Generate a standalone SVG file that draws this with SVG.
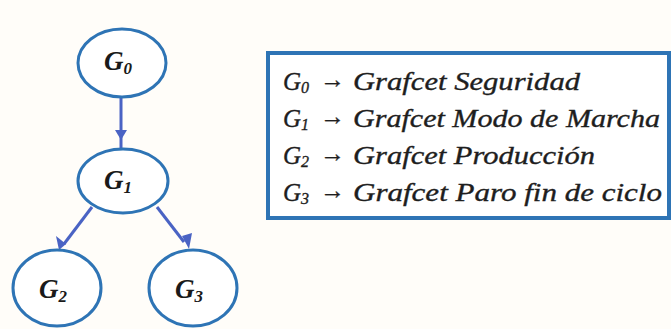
<svg xmlns="http://www.w3.org/2000/svg" width="671" height="329" viewBox="0 0 671 329">
  <defs>
    <style>
      .node { fill: #ffffff; stroke: #2e74b5; stroke-width: 3; }
      .lbl { font-family: "Liberation Serif", "DejaVu Serif", serif; font-style: italic; font-weight: bold; font-size: 27px; fill: #1a1a1a; }
      .sub { font-size: 17px; }
      .edge { stroke: #4a63c4; stroke-width: 3; fill: none; }
      .head { fill: #4a63c4; }
      .legend { font-family: "Liberation Serif", "DejaVu Serif", serif; font-style: italic; font-size: 25px; fill: #1e1e1e; stroke: #1e1e1e; stroke-width: 0.35; }
      .lsub { font-size: 16px; }
      .box { fill: #ffffff; stroke: #2e74b5; stroke-width: 4; }
    </style>
  </defs>

  <rect width="671" height="329" fill="#fffdf9"/>

  <!-- connectors -->
  <g id="connectors">
    <line class="edge" x1="121" y1="97" x2="121" y2="150"/>
    <polygon class="head" points="115,130 127,130 121,140"/>
    <line class="edge" x1="92" y1="207" x2="64" y2="244"/>
    <polygon class="head" points="56,236 66,244 59,250"/>
    <line class="edge" x1="157" y1="207" x2="184" y2="242"/>
    <polygon class="head" points="182,236 192,233 189,249"/>
  </g>

  <!-- nodes -->
  <g id="G0">
    <ellipse class="node" cx="122" cy="63" rx="44" ry="34"/>
    <text class="lbl" x="104" y="70">G<tspan class="sub" dy="4">0</tspan></text>
  </g>
  <g id="G1">
    <ellipse class="node" cx="123" cy="181" rx="45" ry="32"/>
    <text class="lbl" x="104" y="189">G<tspan class="sub" dy="4">1</tspan></text>
  </g>
  <g id="G2">
    <ellipse class="node" cx="57" cy="288" rx="44" ry="38"/>
    <text class="lbl" x="39" y="298">G<tspan class="sub" dy="4">2</tspan></text>
  </g>
  <g id="G3">
    <ellipse class="node" cx="193" cy="288" rx="44" ry="38"/>
    <text class="lbl" x="175" y="298">G<tspan class="sub" dy="4">3</tspan></text>
  </g>

  <!-- legend -->
  <g id="legend">
    <rect class="box" x="268" y="53" width="401" height="165"/>
    <text class="legend" x="283" y="90">G<tspan class="lsub" dy="3">0</tspan></text>
    <text class="legend" x="320" y="88">→</text>
    <text class="legend" x="353" y="90" textLength="227" lengthAdjust="spacingAndGlyphs">Grafcet Seguridad</text>

    <text class="legend" x="283" y="127">G<tspan class="lsub" dy="3">1</tspan></text>
    <text class="legend" x="320" y="125">→</text>
    <text class="legend" x="353" y="127" textLength="307" lengthAdjust="spacingAndGlyphs">Grafcet Modo de Marcha</text>

    <text class="legend" x="283" y="164">G<tspan class="lsub" dy="3">2</tspan></text>
    <text class="legend" x="320" y="162">→</text>
    <text class="legend" x="353" y="164" textLength="242" lengthAdjust="spacingAndGlyphs">Grafcet Producción</text>

    <text class="legend" x="283" y="201">G<tspan class="lsub" dy="3">3</tspan></text>
    <text class="legend" x="320" y="199">→</text>
    <text class="legend" x="353" y="201" textLength="309" lengthAdjust="spacingAndGlyphs">Grafcet Paro fin de ciclo</text>
  </g>
</svg>
